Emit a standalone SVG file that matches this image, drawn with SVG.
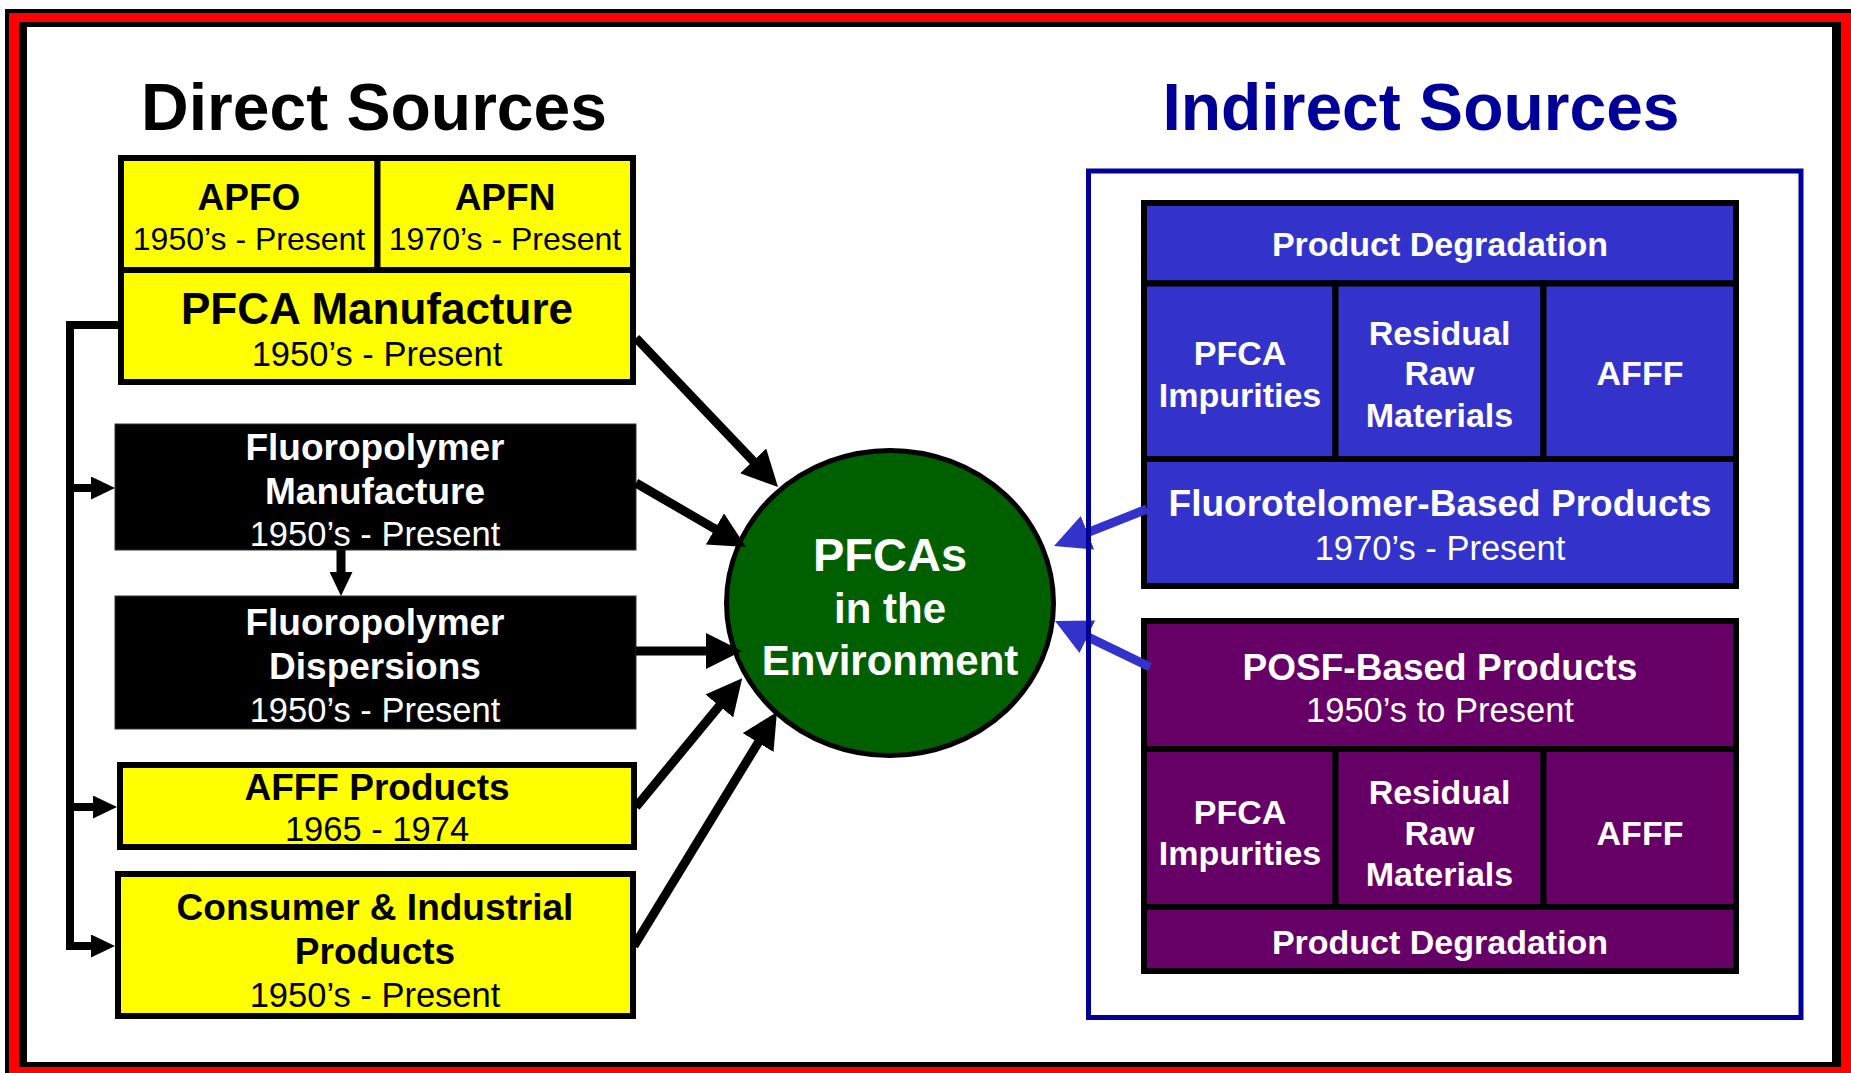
<svg xmlns="http://www.w3.org/2000/svg" width="1851" height="1073" viewBox="0 0 1851 1073">
<style>
text{font-family:"Liberation Sans",Arial,Helvetica,sans-serif;text-anchor:middle}
.hd{font-weight:bold;font-size:66px}
.b37{font-weight:bold;font-size:37px}
.b34{font-weight:bold;font-size:34px}
.b44{font-weight:bold;font-size:44px}
.r32{font-size:32px}
.r34{font-size:34.5px}
.w{fill:#fff}
.k{fill:#000}
.ybox{fill:#ff0;stroke:#000;stroke-width:6}
.kbox{fill:#000;stroke:#333;stroke-width:1}
.bbox{fill:#3333cc;stroke:#000;stroke-width:6}
.pbox{fill:#660066;stroke:#000;stroke-width:6}
.kline{fill:none;stroke:#000;stroke-width:9}
.tline{fill:none;stroke:#000;stroke-width:8}
.bline{fill:none;stroke:#3333cc;stroke-width:9}
</style>
<defs>
<marker id="bigK" markerUnits="userSpaceOnUse" viewBox="0 0 36 36" markerWidth="36" markerHeight="36" refX="6" refY="18" orient="auto"><path d="M0,0 L36,18 L0,36 z" fill="#000"/></marker>
<marker id="bigB" markerUnits="userSpaceOnUse" viewBox="0 0 36 36" markerWidth="36" markerHeight="36" refX="6" refY="18" orient="auto"><path d="M0,0 L36,18 L0,36 z" fill="#3333cc"/></marker>
<marker id="smK" markerUnits="userSpaceOnUse" viewBox="0 0 24 23" markerWidth="24" markerHeight="23" refX="4" refY="11.5" orient="auto"><path d="M0,0 L24,11.5 L0,23 z" fill="#000"/></marker>
</defs>
<rect x="0" y="0" width="1851" height="1073" fill="#fff"/>
<g id="frame">
<rect x="5" y="9" width="1860" height="1080" fill="#000"/>
<rect x="9" y="13" width="1850" height="1070" fill="#f00"/>
<rect x="19" y="22" width="1822" height="1045" fill="#000"/>
<rect x="27" y="27" width="1805" height="1035" fill="#fff"/>
</g>
<g id="headings">
<text class="hd k" x="374" y="130">Direct Sources</text>
<text class="hd" x="1421" y="130" fill="#000099">Indirect Sources</text>
</g>
<g id="apfo">
<rect class="ybox" x="121" y="158" width="256.5" height="112"/>
<text class="b37 k" x="249" y="209.5">APFO</text>
<text class="r32 k" x="249" y="249.5">1950’s - Present</text>
</g>
<g id="apfn">
<rect class="ybox" x="377.5" y="158" width="255.5" height="112"/>
<text class="b37 k" x="505" y="209.5">APFN</text>
<text class="r32 k" x="505" y="249.5">1970’s - Present</text>
</g>
<g id="pfca-manufacture">
<rect class="ybox" x="121" y="270" width="512" height="112"/>
<text class="b44 k" x="377" y="324">PFCA Manufacture</text>
<text class="r34 k" x="377" y="365.5">1950’s - Present</text>
</g>
<g id="fluoropolymer-manufacture">
<rect class="kbox" x="115" y="424" width="521" height="126"/>
<text class="b37 w" x="375" y="459.5">Fluoropolymer</text>
<text class="b37 w" x="375" y="503.5">Manufacture</text>
<text class="r34 w" x="375" y="545.5">1950’s - Present</text>
</g>
<g id="fluoropolymer-dispersions">
<rect class="kbox" x="115" y="596" width="521" height="133"/>
<text class="b37 w" x="375" y="635">Fluoropolymer</text>
<text class="b37 w" x="375" y="679">Dispersions</text>
<text class="r34 w" x="375" y="722">1950’s - Present</text>
</g>
<g id="afff-products">
<rect class="ybox" x="120" y="765" width="514" height="82"/>
<text class="b37 k" x="377" y="800">AFFF Products</text>
<text class="r34 k" x="377" y="841">1965 - 1974</text>
</g>
<g id="consumer-industrial">
<rect class="ybox" x="118" y="874" width="515" height="142"/>
<text class="b37 k" x="375" y="920">Consumer &amp; Industrial</text>
<text class="b37 k" x="375" y="964">Products</text>
<text class="r34 k" x="375" y="1007">1950’s - Present</text>
</g>
<g id="pfcas-environment">
<ellipse cx="890" cy="603" rx="163.5" ry="152.5" fill="#006000" stroke="#000" stroke-width="5"/>
<text class="w" x="890" y="571" style="font-weight:bold;font-size:47px">PFCAs</text>
<text class="w" x="890" y="623" style="font-weight:bold;font-size:42px">in the</text>
<text class="w" x="890" y="675" style="font-weight:bold;font-size:42px">Environment</text>
</g>
<g id="fluorotelomer-block">
<rect class="bbox" x="1144" y="203" width="592" height="80.5"/>
<text class="b34 w" x="1440" y="255.5">Product Degradation</text>
<rect class="bbox" x="1144" y="283.5" width="191.5" height="175.5"/>
<text class="b34 w" x="1240" y="364.5">PFCA</text>
<text class="b34 w" x="1240" y="406.5">Impurities</text>
<rect class="bbox" x="1335.5" y="283.5" width="208" height="175.5"/>
<text class="b34 w" x="1439.5" y="344.5">Residual</text>
<text class="b34 w" x="1439.5" y="384.5">Raw</text>
<text class="b34 w" x="1439.5" y="426.5">Materials</text>
<rect class="bbox" x="1543.5" y="283.5" width="192.5" height="175.5"/>
<text class="b34 w" x="1640" y="384.5">AFFF</text>
<rect class="bbox" x="1144" y="459" width="592" height="127"/>
<text class="b37 w" x="1440" y="516">Fluorotelomer-Based Products</text>
<text class="r34 w" x="1440" y="559.5">1970’s - Present</text>
</g>
<g id="posf-block">
<rect class="pbox" x="1144" y="621" width="592" height="128"/>
<text class="b37 w" x="1440" y="679.5">POSF-Based Products</text>
<text class="r34 w" x="1440" y="721.5">1950’s to Present</text>
<rect class="pbox" x="1144" y="749" width="191.5" height="158"/>
<text class="b34 w" x="1240" y="824">PFCA</text>
<text class="b34 w" x="1240" y="865">Impurities</text>
<rect class="pbox" x="1335.5" y="749" width="208" height="158"/>
<text class="b34 w" x="1439.5" y="804">Residual</text>
<text class="b34 w" x="1439.5" y="845">Raw</text>
<text class="b34 w" x="1439.5" y="886">Materials</text>
<rect class="pbox" x="1543.5" y="749" width="192.5" height="158"/>
<text class="b34 w" x="1640" y="845">AFFF</text>
<rect class="pbox" x="1144" y="907" width="592" height="64"/>
<text class="b34 w" x="1440" y="953.5">Product Degradation</text>
</g>
<g id="connectors">
<path class="tline" d="M121 325 H70 V946 H95" marker-end="url(#smK)"/>
<path class="tline" d="M70 488 H95" marker-end="url(#smK)"/>
<path class="tline" d="M70 807 H97" marker-end="url(#smK)"/>
<path class="kline" d="M341 550 V576" marker-end="url(#smK)"/>
<path class="kline" d="M636 338 L757.3 465.3" marker-end="url(#bigK)"/>
<path class="kline" d="M636 483 L720.1 531.9" marker-end="url(#bigK)"/>
<path class="kline" d="M636 651 L712 651" marker-end="url(#bigK)"/>
<path class="kline" d="M636 807 L723.1 701.3" marker-end="url(#bigK)"/>
<path class="kline" d="M634 946 L761.3 737.5" marker-end="url(#bigK)"/>
<path class="bline" d="M1147 509 L1081.9 534.9" marker-end="url(#bigB)"/>
<path class="bline" d="M1150 667 L1082 634.1" marker-end="url(#bigB)"/>
</g>
<g id="indirect-container">
<rect x="1088.5" y="171" width="712.5" height="846.5" fill="none" stroke="#000099" stroke-width="5"/>
</g>
</svg>
